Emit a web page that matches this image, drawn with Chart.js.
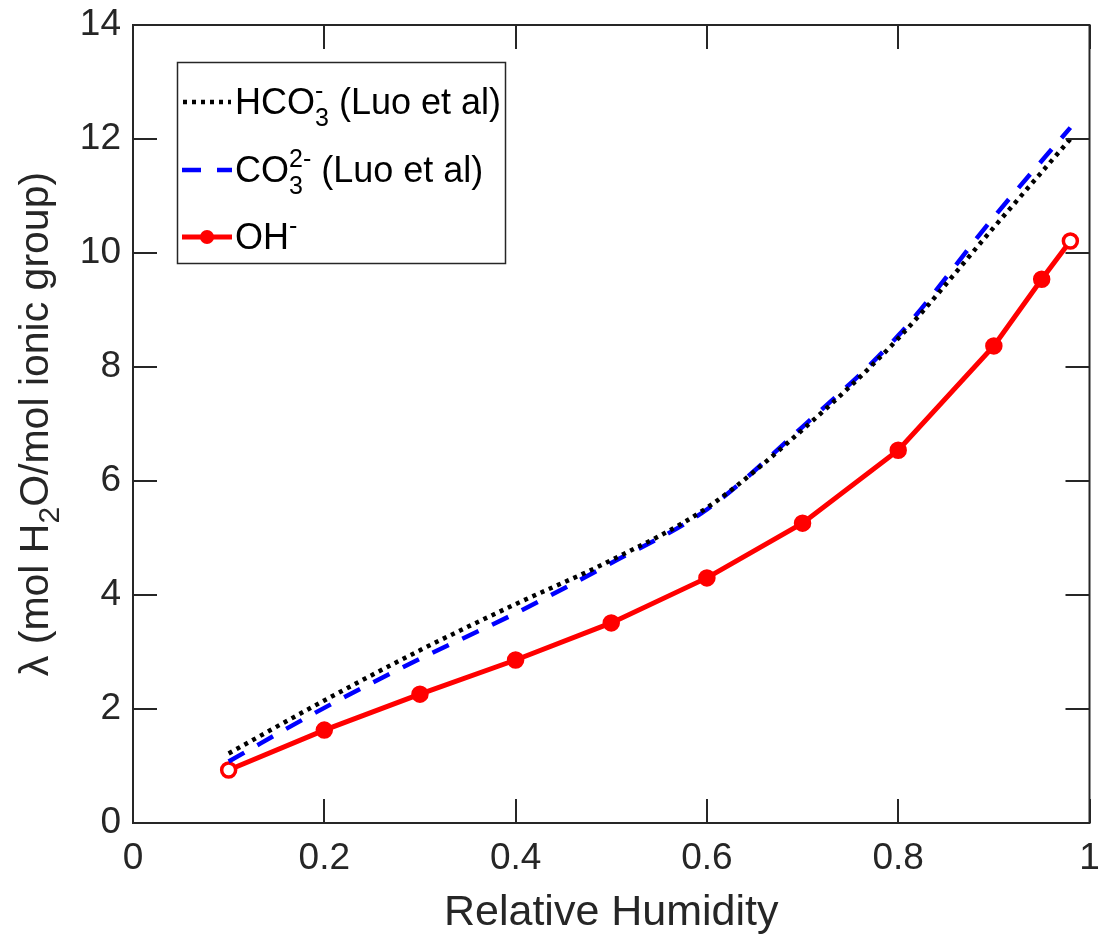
<!DOCTYPE html>
<html>
<head>
<meta charset="utf-8">
<script src="https://cdn.jsdelivr.net/npm/chart.js@4.4.1/dist/chart.umd.min.js"></script>
<style>
html, body { margin: 0; padding: 0; background: #fff; }
canvas { display: block; }
</style>
</head>
<body>
<canvas id="chart" width="1100" height="939"></canvas>
<script>
// measured OH- water uptake
const rhOH = [0.1, 0.2, 0.3, 0.4, 0.5, 0.6, 0.7, 0.8, 0.9, 0.95, 0.98];
const lambdaOH = [0.93, 1.63, 2.26, 2.86, 3.51, 4.30, 5.26, 6.54, 8.37, 9.54, 10.21];

// Luo et al curves
const rhLuo = [0.1, 0.2, 0.3, 0.4, 0.5, 0.6, 0.7, 0.8, 0.9, 0.98];
const lambdaHCO3 = [1.22, 2.15, 3.03, 3.84, 4.61, 5.53, 6.90, 8.50, 10.45, 12.00];
const lambdaCO3 = [1.08, 2.02, 2.88, 3.68, 4.56, 5.50, 6.95, 8.55, 10.63, 12.20];

const xTicks = [0, 0.2, 0.4, 0.6, 0.8, 1];
const yTicks = [0, 2, 4, 6, 8, 10, 12, 14];

const FONT = "'Liberation Sans', Arial, sans-serif";
const AXIS = '#262626';
const RED = '#ff0000';

function toPoints(xs, ys) {
    return xs.map((x, i) => ({ x: x, y: ys[i] }));
}

// Box + inward ticks (MATLAB style)
const boxPlugin = {
    id: 'box',
    afterDraw(chart) {
        const ctx = chart.ctx;
        const a = chart.chartArea;
        const sx = chart.scales.x, sy = chart.scales.y;
        const tl = 24;
        ctx.save();
        ctx.strokeStyle = AXIS;
        ctx.lineWidth = 2;
        ctx.strokeRect(a.left, a.top, a.right - a.left, a.bottom - a.top);
        ctx.beginPath();
        xTicks.forEach(v => {
            const px = Math.round(sx.getPixelForValue(v));
            ctx.moveTo(px, a.bottom); ctx.lineTo(px, a.bottom - tl);
            ctx.moveTo(px, a.top); ctx.lineTo(px, a.top + tl);
        });
        yTicks.forEach(v => {
            const py = Math.round(sy.getPixelForValue(v));
            ctx.moveTo(a.left, py); ctx.lineTo(a.left + tl, py);
            ctx.moveTo(a.right, py); ctx.lineTo(a.right - tl, py);
        });
        ctx.stroke();

        // y axis title with subscript
        const fs = 41;
        const parts = [['λ (mol H', 0], ['2', 1], ['O/mol ionic group)', 0]];
        const fontFor = s => (s ? Math.round(fs * 0.72) : fs) + 'px ' + FONT;
        let total = 0;
        parts.forEach(p => { ctx.font = fontFor(p[1]); total += ctx.measureText(p[0]).width; });
        ctx.translate(48, (a.top + a.bottom) / 2);
        ctx.rotate(-Math.PI / 2);
        ctx.fillStyle = AXIS;
        ctx.textBaseline = 'alphabetic';
        ctx.textAlign = 'left';
        let x = -total / 2;
        parts.forEach(p => {
            ctx.font = fontFor(p[1]);
            ctx.fillText(p[0], x, p[1] ? 11 : 0);
            x += ctx.measureText(p[0]).width;
        });
        ctx.restore();

        drawLegend(ctx);
    }
};

// legend entries: base text, subscript, superscript, trailing text
const legendEntries = [
    { base: 'HCO', sub: '3', sup: '-', tail: ' (Luo et al)' },
    { base: 'CO', sub: '3', sup: '2-', tail: ' (Luo et al)' },
    { base: 'OH', sub: '', sup: '-', tail: '' }
];

function drawLegend(ctx) {
    const bx = 177, by = 62, bw = 328, bh = 201;
    const rowY = [102, 170, 237];
    const fs = 36, small = 25;
    ctx.save();
    ctx.fillStyle = '#fff';
    ctx.fillRect(bx, by, bw, bh);
    ctx.strokeStyle = AXIS;
    ctx.lineWidth = 1.5;
    ctx.strokeRect(bx + 0.5, by + 0.5, bw, bh);

    // line samples
    ctx.lineCap = 'butt';
    ctx.lineWidth = 4.5;
    ctx.strokeStyle = '#000';
    ctx.setLineDash([4, 5]);
    ctx.beginPath(); ctx.moveTo(183, rowY[0]); ctx.lineTo(231, rowY[0]); ctx.stroke();
    ctx.strokeStyle = '#0000ff';
    ctx.setLineDash([19, 16]);
    ctx.beginPath(); ctx.moveTo(182, rowY[1]); ctx.lineTo(232, rowY[1]); ctx.stroke();
    ctx.strokeStyle = RED;
    ctx.lineWidth = 5;
    ctx.setLineDash([]);
    ctx.beginPath(); ctx.moveTo(182, rowY[2]); ctx.lineTo(232, rowY[2]); ctx.stroke();
    ctx.fillStyle = RED;
    ctx.beginPath(); ctx.arc(207, rowY[2], 7, 0, Math.PI * 2); ctx.fill();

    ctx.fillStyle = '#000';
    ctx.textBaseline = 'alphabetic';
    legendEntries.forEach((e, i) => {
        const base = rowY[i] + 12;
        let x = 235;
        ctx.font = fs + 'px ' + FONT;
        ctx.fillText(e.base, x, base);
        x += ctx.measureText(e.base).width;
        ctx.font = small + 'px ' + FONT;
        let w = 0;
        if (e.sub) { ctx.fillText(e.sub, x, base + 12); w = ctx.measureText(e.sub).width; }
        if (e.sup) { ctx.fillText(e.sup, x, base - 15); w = Math.max(w, ctx.measureText(e.sup).width); }
        x += w;
        ctx.font = fs + 'px ' + FONT;
        ctx.fillText(e.tail, x, base);
    });
    ctx.restore();
}

new Chart(document.getElementById('chart'), {
    type: 'line',
    data: {
        datasets: [
            {
                label: 'HCO3- (Luo et al)',
                data: toPoints(rhLuo, lambdaHCO3),
                borderColor: '#000',
                borderWidth: 4.5,
                borderDash: [4, 5],
                cubicInterpolationMode: 'monotone',
                pointRadius: 0,
                fill: false
            },
            {
                label: 'CO3 2- (Luo et al)',
                data: toPoints(rhLuo, lambdaCO3),
                borderColor: '#0000ff',
                borderWidth: 4.5,
                borderDash: [18, 15],
                cubicInterpolationMode: 'monotone',
                pointRadius: 0,
                fill: false
            },
            {
                label: 'OH-',
                data: toPoints(rhOH, lambdaOH),
                borderColor: RED,
                borderWidth: 5,
                pointRadius: 7,
                pointBorderWidth: 3.5,
                pointBorderColor: RED,
                pointBackgroundColor: rhOH.map((v, i) => (i === 0 || i === rhOH.length - 1) ? '#fff' : RED),
                fill: false
            }
        ]
    },
    options: {
        responsive: false,
        animation: false,
        layout: { padding: { top: 25, right: 8, left: 0, bottom: 0 } },
        plugins: {
            legend: { display: false },
            tooltip: { enabled: false }
        },
        scales: {
            x: {
                type: 'linear',
                min: 0,
                max: 1,
                afterBuildTicks: s => { s.ticks = xTicks.map(v => ({ value: v })); },
                afterFit: s => { s.height = 116; s.paddingLeft = 0; s.paddingRight = 0; },
                grid: { display: false, drawTicks: false },
                border: { display: false },
                ticks: {
                    font: { family: FONT, size: 37 },
                    color: AXIS,
                    padding: 14,
                    maxRotation: 0,
                    callback: v => String(v)
                },
                title: {
                    display: true,
                    text: 'Relative Humidity',
                    font: { family: FONT, size: 43 },
                    color: AXIS,
                    padding: { top: 0, bottom: 0 }
                }
            },
            y: {
                type: 'linear',
                min: 0,
                max: 14,
                afterBuildTicks: s => { s.ticks = yTicks.map(v => ({ value: v })); },
                afterFit: s => { s.width = 133; s.paddingTop = 0; s.paddingBottom = 0; },
                grid: { display: false, drawTicks: false },
                border: { display: false },
                ticks: {
                    font: { family: FONT, size: 37 },
                    color: AXIS,
                    padding: 12,
                    callback: v => String(v)
                }
            }
        }
    },
    plugins: [boxPlugin]
});
</script>
</body>
</html>
